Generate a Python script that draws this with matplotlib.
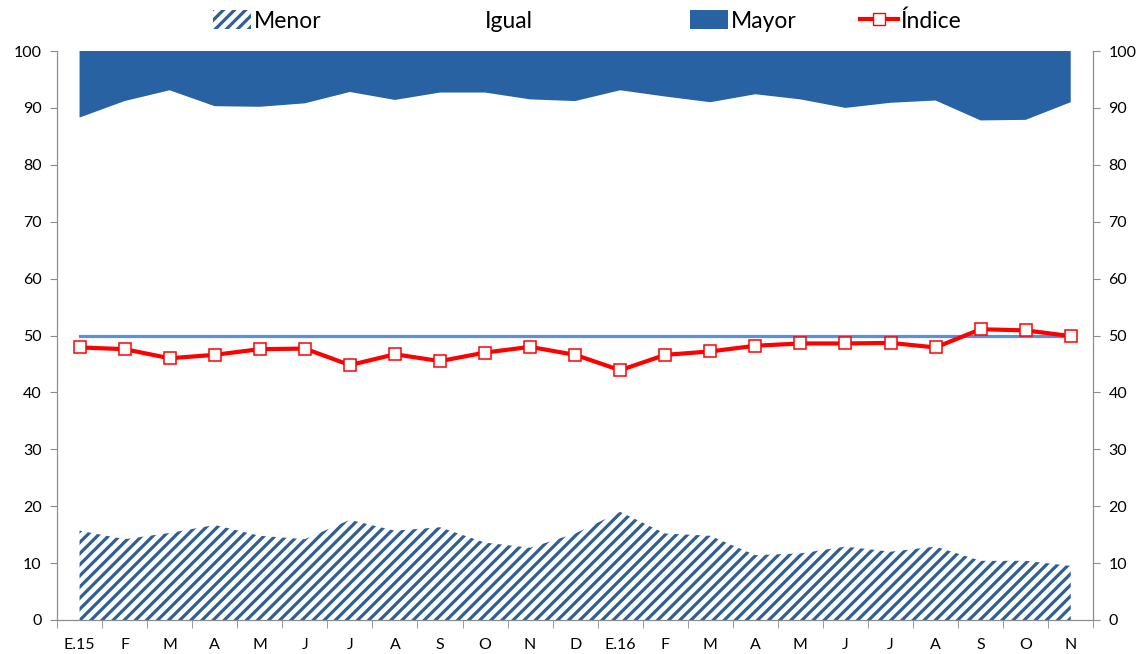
import numpy as np
import matplotlib
matplotlib.use("Agg")
import matplotlib.pyplot as plt
from matplotlib.patches import Patch
from matplotlib.lines import Line2D

# Data (percent of responses)
months = ["E.15", "F", "M", "A", "M", "J", "J", "A", "S", "O", "N", "D",
          "E.16", "F", "M", "A", "M", "J", "J", "A", "S", "O", "N"]
menor = [15.7, 14.2, 15.3, 16.7, 14.8, 14.2, 17.6, 15.7, 16.3, 13.6, 12.7, 15.2,
         19.0, 15.2, 14.8, 11.4, 11.7, 12.9, 12.0, 12.9, 10.4, 10.4, 9.5]
mayor = [11.7, 8.8, 6.9, 9.7, 9.8, 9.2, 7.2, 8.6, 7.3, 7.3, 8.5, 8.8,
         6.9, 8.0, 9.0, 7.6, 8.5, 10.0, 9.1, 8.7, 12.2, 12.1, 9.0]
indice = [47.9, 47.6, 46.0, 46.6, 47.6, 47.7, 44.8, 46.7, 45.5, 47.0, 48.0, 46.6,
          43.9, 46.6, 47.2, 48.2, 48.6, 48.6, 48.7, 47.9, 51.1, 50.9, 49.9]
ref_level = 50
legend_labels = ["Menor", "Igual", "Mayor", "Índice"]

plt.rcParams["font.family"] = ["Lato", "DejaVu Sans"]
plt.rcParams["hatch.linewidth"] = 2.3

blue_dark = "#2862A3"
hatch_col = "#2F5F95"
axis_col = "#8C8C8C"

x = np.arange(len(months))
menor = np.array(menor)
mayor = np.array(mayor)
igual = 100 - menor - mayor

fig = plt.figure(figsize=(11.45, 6.54), dpi=100)
ax = fig.add_axes([0.0498, 0.052, 0.905, 0.870])

# Stacked areas: Menor (hatched), Igual (blank), Mayor (solid)
ax.fill_between(x, 0, menor, facecolor="white", edgecolor=hatch_col,
                hatch="///", linewidth=0)
ax.fill_between(x, menor, menor + igual, facecolor="none", linewidth=0)
ax.fill_between(x, menor + igual, 100, facecolor=blue_dark, linewidth=0)

# Reference line at 50 and the index
ax.plot(x, [ref_level] * len(x), color="#5B8FD8", linewidth=2.3, zorder=3)
ax.plot(x, indice, color="#FF0000", linewidth=3, marker="s", markersize=9,
        markerfacecolor="white", markeredgecolor="#FF0000", markeredgewidth=1.1,
        zorder=4)

ax.set_xlim(-0.5, len(x) - 0.5)
ax.set_ylim(0, 100)
ax.set_yticks(range(0, 101, 10))
ax.set_xticks(x)
ax.set_xticklabels(months)
ax.set_xticks(np.arange(-0.5, len(x), 1), minor=True)
ax.tick_params(axis="x", which="major", length=0, pad=13, labelsize=11.5)
ax.tick_params(axis="x", which="minor", length=6, color=axis_col, direction="out")
ax.tick_params(axis="y", length=5, color=axis_col, labelsize=11.5, pad=6)

ax.spines["top"].set_visible(False)
for side in ["left", "right", "bottom"]:
    ax.spines[side].set_color(axis_col)

ax2 = ax.twinx()
ax2.set_ylim(0, 100)
ax2.set_yticks(range(0, 101, 10))
ax2.tick_params(axis="y", length=5, color=axis_col, labelsize=11.5, pad=6)
ax2.spines["top"].set_visible(False)
for side in ["left", "right", "bottom"]:
    ax2.spines[side].set_color(axis_col)

# Legend entries placed one by one, like the spreadsheet legend
handles = [
    Patch(facecolor="white", edgecolor=hatch_col, hatch="///", linewidth=0),
    Patch(facecolor="none", edgecolor="none"),
    Patch(facecolor=blue_dark, edgecolor="none"),
    Line2D([0], [0], color="#FF0000", linewidth=3, marker="s", markersize=9,
           markerfacecolor="white", markeredgecolor="#FF0000"),
]
legend_x = [0.186, 0.388, 0.603, 0.751]
for h, lab, lx in zip(handles, legend_labels, legend_x):
    fig.legend([h], [lab], loc="center left", bbox_to_anchor=(lx, 0.968),
               frameon=False, fontsize=16.5, borderpad=0, borderaxespad=0,
               handlelength=1.65, handleheight=0.9, handletextpad=0.12)

fig.savefig("out.png", dpi=100)
